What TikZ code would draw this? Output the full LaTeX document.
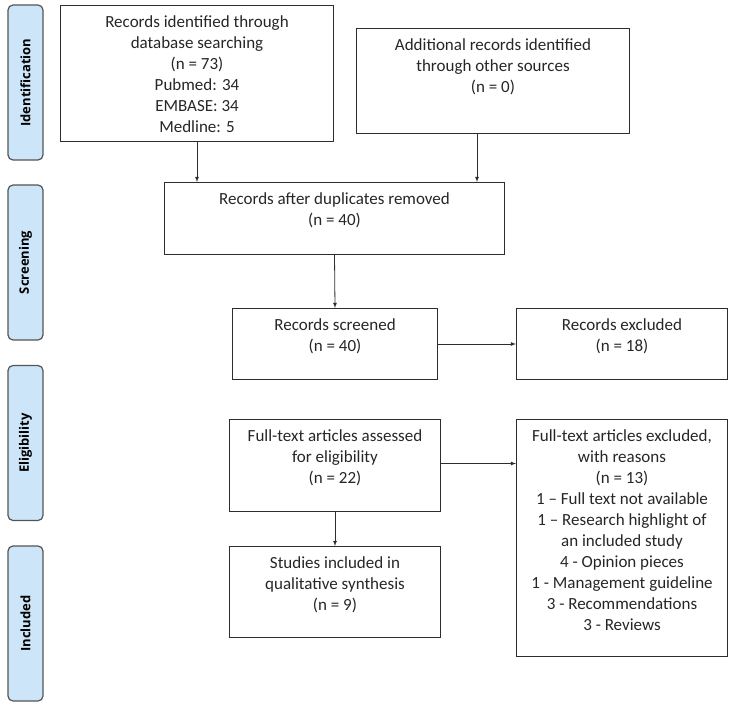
\documentclass[tikz,border=0pt]{standalone}
\usepackage{fontspec}
\setmainfont{Carlito}
\newfontfamily\stagefont{Open Sans}
\usetikzlibrary{arrows}

\definecolor{stagefill}{RGB}{205,229,248}
\definecolor{stageline}{RGB}{85,85,85}
\definecolor{boxline}{RGB}{45,45,45}

\tikzset{
  stage/.style = {draw=stageline, fill=stagefill, line width=1.2pt, rounded corners=5pt, rotate=90, minimum width=155pt, minimum height=35pt, inner sep=0pt, font=\stagefont\bfseries\fontsize{13}{15}\selectfont},
  box/.style = {draw=boxline, line width=1pt, anchor=north west, inner sep=0pt},
  boxtext/.style = {anchor=north, align=center, inner xsep=7pt, inner ysep=10.5pt, text=black!85, font=\fontsize{17}{21}\selectfont},
  flow/.style = {draw=boxline, line width=0.8pt, -latex}
}

\begin{document}
\begin{tikzpicture}[x=1pt, y=-1pt]
\useasboundingbox (0,0) rectangle (731,709);
\node[stage] (identlab) at (25.5,82.5) {Identification};
\node[stage] (screenlab) at (25.5,262.5) {Screening};
\node[stage] (eliglab) at (25.5,443) {Eligibility};
\node[stage] (incllab) at (25.5,623.5) {Included};

\node[box, minimum width=273pt, minimum height=136pt] (records) at (60,5) {};
\node[boxtext] (records-t) at (records.north) {Records identified through\\database searching\\(n = 73)\\Pubmed: 34\\EMBASE: 34\\Medline: 5};
\node[box, minimum width=273pt, minimum height=105pt] (other) at (356,28) {};
\node[boxtext] (other-t) at (other.north) {Additional records identified\\through other sources\\(n = 0)};
\node[box, minimum width=340pt, minimum height=72pt] (dedup) at (164,182) {};
\node[boxtext] (dedup-t) at (dedup.north) {Records after duplicates removed\\(n = 40)};
\node[box, minimum width=205pt, minimum height=71pt] (screened) at (232,308) {};
\node[boxtext] (screened-t) at (screened.north) {Records screened\\(n = 40)};
\node[box, minimum width=211pt, minimum height=71pt] (excluded) at (516,308) {};
\node[boxtext] (excluded-t) at (excluded.north) {Records excluded\\(n = 18)};
\node[box, minimum width=211pt, minimum height=92pt] (fulltext) at (229,419) {};
\node[boxtext] (fulltext-t) at (fulltext.north) {Full-text articles assessed\\for eligibility\\(n = 22)};
\node[box, minimum width=211pt, minimum height=237pt] (ftexcl) at (516,419) {};
\node[boxtext] (ftexcl-t) at (ftexcl.north) {Full-text articles excluded,\\with reasons\\(n = 13)\\1 – Full text not available\\1 – Research highlight of\\an included study\\4 - Opinion pieces\\1 - Management guideline\\3 - Recommendations\\3 - Reviews};
\node[box, minimum width=211pt, minimum height=91pt] (studies) at (229,546) {};
\node[boxtext] (studies-t) at (studies.north) {Studies included in\\qualitative synthesis\\(n = 9)};

\coordinate (otherout) at ([xshift=-16pt]other.south);
\draw[flow] (records.south) -- (records.south |- dedup.north);
\draw[flow] (otherout) -- (otherout |- dedup.north);
\draw[flow] (dedup.south) -- (screened.north);
\draw[flow] (screened.east) -- (excluded.west);
\draw[flow] (fulltext.south) -- (studies.north);
\draw[flow] ([yshift=2pt]fulltext.east) -- ([yshift=2pt]fulltext.east -| ftexcl.west);
\end{tikzpicture}
\end{document}
